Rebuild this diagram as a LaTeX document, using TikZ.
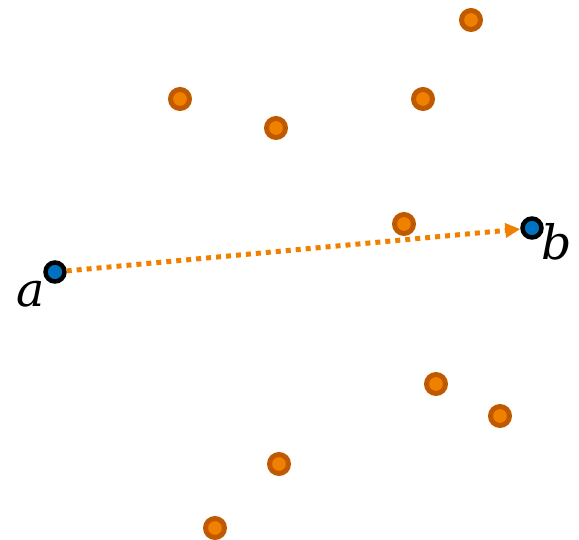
\documentclass[tikz,border=0pt]{standalone}
\usepackage{fontspec}
\setmainfont{DejaVu Serif}
\usetikzlibrary{arrows.meta}
\definecolor{ptfill}{HTML}{F08000}
\definecolor{ptring}{HTML}{BF5A00}
\definecolor{endfill}{HTML}{0070C0}
\begin{document}
\begin{tikzpicture}[x=0.02cm, y=-0.02cm,
			every node/.style={circle, inner sep=0pt, minimum size=0.38cm},
			sample/.style={fill=ptfill, draw=ptring, line width=0.1cm},
			endpt/.style={fill=endfill, draw=black, line width=0.09cm},
			lbl/.style={draw=none, fill=none, rectangle, font=\fontsize{27}{30}\selectfont\itshape},
			path/.style={draw=ptfill, line width=0.1cm, dash pattern=on 0.1cm off 0.1cm, -{Triangle[length=0.3cm, width=0.28cm]}}]

		\useasboundingbox (0, 0) rectangle (579, 540);

		\node[sample] (s1) at (471, 20) {};
		\node[sample] (s2) at (180, 99) {};
		\node[sample] (s3) at (276, 128) {};
		\node[sample] (s4) at (423, 99) {};
		\node[sample] (s5) at (404, 224) {};
		\node[sample] (s6) at (436, 384) {};
		\node[sample] (s7) at (500, 416) {};
		\node[sample] (s8) at (279, 464) {};
		\node[sample] (s9) at (215, 528) {};

		\node[endpt] (a) at (55, 272) {};
		\node[endpt] (b) at (532, 228) {};

		\node[lbl] (la) at (31, 294) {a};
		\node[lbl] (lb) at (557, 242) {b};

		\draw[path] (a) -- (b);
	\end{tikzpicture}
\end{document}
